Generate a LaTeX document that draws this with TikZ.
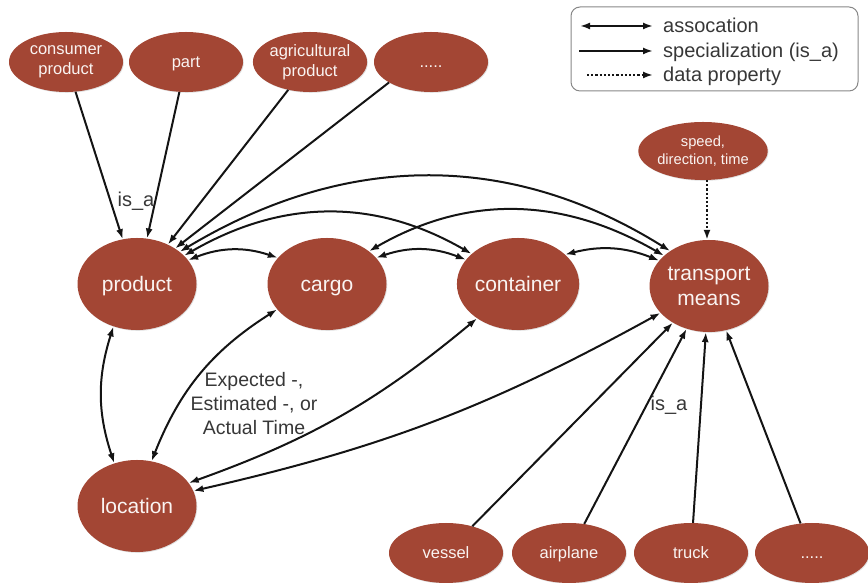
\documentclass[tikz,border=0pt]{standalone}
\usepackage{fontspec}
\setmainfont{Liberation Sans}
\usetikzlibrary{shapes.geometric,arrows.meta,shadows}

\definecolor{nodefill}{RGB}{163,70,52}
\definecolor{nodetext}{RGB}{250,244,242}
\definecolor{edgecol}{RGB}{20,20,20}
\definecolor{labelcol}{RGB}{55,55,55}
\definecolor{framecol}{RGB}{135,135,135}

\tikzset{
  concept/.style={ellipse, fill=nodefill, text=nodetext, inner sep=0pt, align=center,
    drop shadow={opacity=0.25, shadow xshift=0.8pt, shadow yshift=-0.8pt}},
  bigconcept/.style={concept, minimum width=119pt, minimum height=92pt,
    font=\fontsize{21}{25}\selectfont},
  subconcept/.style={concept, minimum width=114pt, minimum height=60pt,
    font=\fontsize{16.5}{20}\selectfont},
  propconcept/.style={concept, minimum width=114pt, minimum height=58pt,
    font=\fontsize{14.7}{17.5}\selectfont},
  bigline/.style={text height=20pt, text depth=4.5pt},
  smallline/.style={text height=14.5pt, text depth=3.5pt},
  >={Latex[length=10pt,width=7pt]},
  assoc/.style={<->, draw=edgecol, line width=2pt},
  isa/.style={->, draw=edgecol, line width=2pt},
  dataprop/.style={->, draw=edgecol, line width=2.6pt, dash pattern=on 2.2pt off 2pt},
  edgelabel/.style={text=labelcol, align=center, font=\fontsize{20}{24}\selectfont},
  legendtext/.style={text=labelcol, anchor=base west, inner sep=0pt, font=\fontsize{20}{24}\selectfont},
}

\begin{document}
\begin{tikzpicture}[x=1pt,y=1pt]
\useasboundingbox (0,0) rectangle (868,583);

% main concepts
\node[bigconcept, bigline] (product)   at (137,299) {product};
\node[bigconcept, bigline] (cargo)     at (327,299) {cargo};
\node[bigconcept, bigline] (container) at (518,299) {container};
\node[bigconcept] (transport) at (709,297) {transport\\means};
\node[bigconcept, bigline] (location)  at (137,77)  {location};

% product kinds
\node[subconcept] (consumer) at (66,521)  {consumer\\product};
\node[subconcept, smallline] (part)     at (186,521) {part};
\node[subconcept] (agri)     at (310,521) {agricultural\\product};
\node[subconcept, smallline] (moreprod) at (431,521) {.....};

% transport kinds
\node[subconcept, smallline] (vessel)    at (446,30) {vessel};
\node[subconcept, smallline] (airplane)  at (569,30) {airplane};
\node[subconcept, smallline] (truck)     at (691,30) {truck};
\node[subconcept, smallline] (moretrans) at (812,30) {.....};

% data property of transport means
\node[propconcept] (motion) at (703,432) {speed,\\direction, time};
\coordinate (motionfoot) at (707,403);

% specializations of product
\draw[isa] (consumer) -- (product);
\draw[isa] (part) -- (product);
\draw[isa] (agri.232) -- (product.52);
\draw[isa] (moreprod.206) -- (product.43);
\node[edgelabel] (isaprod) at (136,382) {is\_a};

% specializations of transport means
\draw[isa] (vessel) -- (transport);
\draw[isa] (airplane) -- (transport);
\draw[isa] (truck) -- (transport);
\draw[isa] (moretrans) -- (transport);
\node[edgelabel] (isatrans) at (669,178) {is\_a};

% data property
\draw[dataprop] (motionfoot) -- (motionfoot |- transport.north);

% associations along the top row
\draw[assoc] (product.25) to[bend left=20] (cargo.152);
\draw[assoc] (cargo.28) to[bend left=20] (container.155);
\draw[assoc] (container.32) to[bend left=18] (transport.153);
\draw[assoc] (product.31) to[out=30,in=150] (container.147);
\draw[assoc] (cargo.38) to[out=30,in=150] (transport.146);
\draw[assoc] (product.37) to[out=31,in=148] (transport.138);

% associations with location
\draw[assoc] (product.241) to[bend right=18] (location.118);
\draw[assoc] (cargo.207) to[bend right=18] (location.72);
\draw[assoc] (container.220) to[bend left=10] (location.24);
\draw[assoc] (transport.209) to[bend left=8] (location.15);
\node[edgelabel, font=\fontsize{19.5}{24}\selectfont] (timelabel) at (254,179)
  {Expected -,\\Estimated -, or\\Actual Time};

% legend
\node[draw=framecol, line width=1pt, rounded corners=9pt, minimum width=287pt,
  minimum height=84pt, inner sep=0pt] (legend) at (714.5,534) {};
\coordinate (la) at (580,557);
\coordinate (lb) at (653,557);
\coordinate (lc) at (579,532);
\coordinate (ld) at (653,532);
\coordinate (le) at (587,508);
\coordinate (lf) at (653,508);
\draw[assoc] (la) -- (lb);
\draw[isa] (lc) -- (ld);
\draw[dataprop] (le) -- (lf);
\node[legendtext] (legassoc) at (663,550) {assocation};
\node[legendtext] (legspec)  at (663,525) {specialization (is\_a)};
\node[legendtext] (legdata)  at (663,501) {data property};
\end{tikzpicture}
\end{document}
